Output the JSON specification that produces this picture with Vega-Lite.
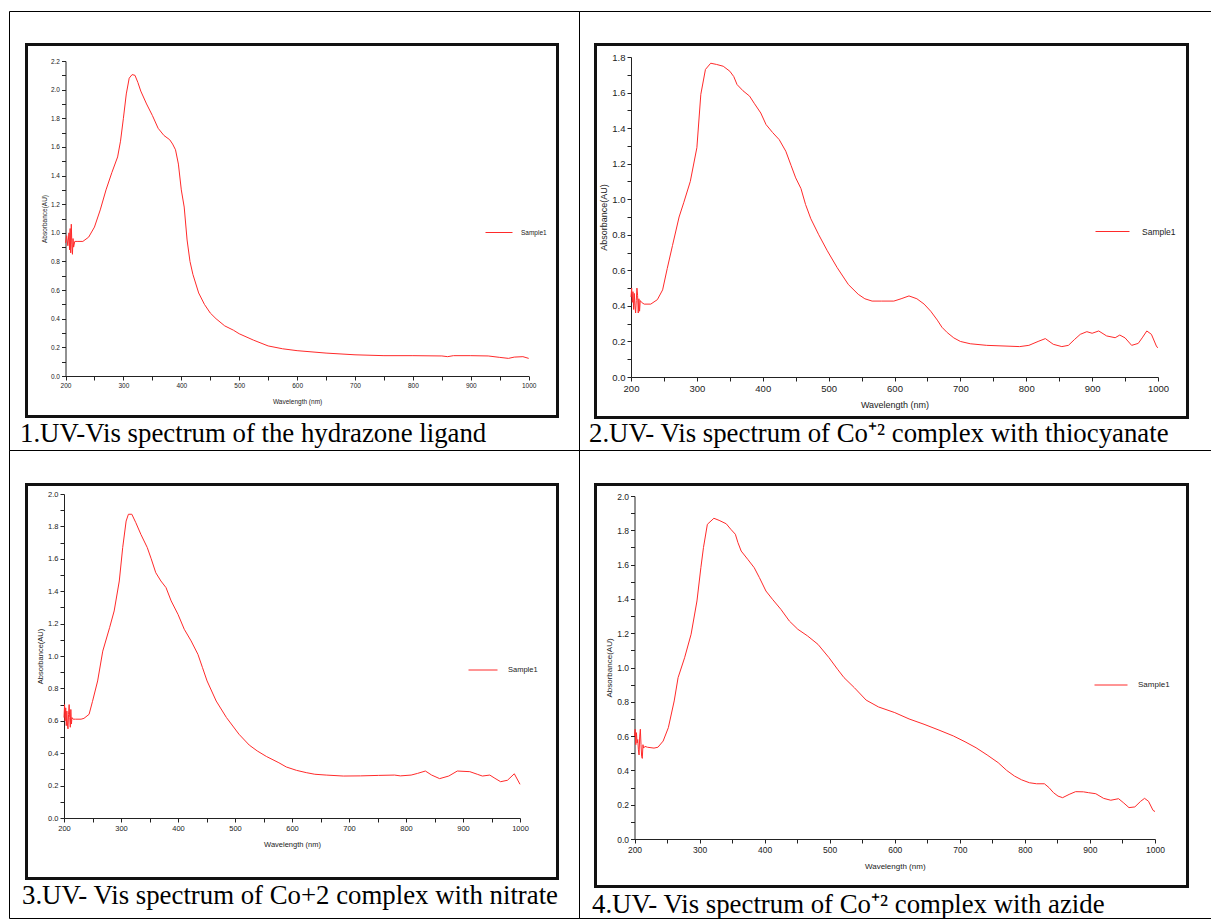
{
  "$schema": "https://vega.github.io/schema/vega-lite/v6.json",
  "padding": {"left": 8, "top": 10, "right": 0, "bottom": 0},
  "background": "white",
  "config": {
    "view": {"stroke": "black", "strokeWidth": 1},
    "axis": {"grid": false, "labelFont": "Liberation Sans", "titleFont": "Liberation Sans", "titleFontWeight": "normal", "labelColor": "#222", "titleColor": "#222", "domainColor": "#222", "tickColor": "#222", "tickSize": 4, "labelPadding": 2, "labelOverlap": false, "labelFlush": false, "labelBound": false},
    "legend": {"labelFont": "Liberation Sans", "labelColor": "#222", "padding": 0, "symbolStrokeWidth": 1.2},
    "line": {"strokeWidth": 1}
  },
  "datasets": {
    "p1": [
      {"nm":200,"a":0.93},{"nm":202,"a":0.98},{"nm":204,"a":0.91},{"nm":206,"a":1.0},{"nm":207,"a":0.88},{"nm":208,"a":1.03},{"nm":209,"a":0.86},{"nm":210,"a":1.06},{"nm":211,"a":0.92},{"nm":212,"a":0.85},{"nm":213,"a":0.96},{"nm":214,"a":0.9},{"nm":216,"a":0.94},{"nm":220,"a":0.94},{"nm":230,"a":0.94},{"nm":240,"a":0.97},{"nm":250,"a":1.04},{"nm":260,"a":1.16},{"nm":270,"a":1.3},{"nm":280,"a":1.42},{"nm":290,"a":1.53},{"nm":295,"a":1.64},{"nm":300,"a":1.8},{"nm":305,"a":1.97},{"nm":310,"a":2.08},{"nm":315,"a":2.105},{"nm":320,"a":2.1},{"nm":325,"a":2.05},{"nm":330,"a":1.99},{"nm":340,"a":1.9},{"nm":350,"a":1.82},{"nm":360,"a":1.73},{"nm":370,"a":1.68},{"nm":380,"a":1.65},{"nm":385,"a":1.62},{"nm":390,"a":1.58},{"nm":395,"a":1.48},{"nm":400,"a":1.3},{"nm":405,"a":1.18},{"nm":410,"a":0.95},{"nm":415,"a":0.8},{"nm":420,"a":0.71},{"nm":430,"a":0.58},{"nm":440,"a":0.5},{"nm":450,"a":0.44},{"nm":460,"a":0.4},{"nm":475,"a":0.35},{"nm":490,"a":0.32},{"nm":500,"a":0.295},{"nm":525,"a":0.25},{"nm":550,"a":0.21},{"nm":575,"a":0.19},{"nm":600,"a":0.177},{"nm":650,"a":0.16},{"nm":700,"a":0.148},{"nm":750,"a":0.142},{"nm":800,"a":0.142},{"nm":850,"a":0.14},{"nm":860,"a":0.135},{"nm":870,"a":0.142},{"nm":900,"a":0.142},{"nm":930,"a":0.14},{"nm":950,"a":0.13},{"nm":965,"a":0.123},{"nm":975,"a":0.132},{"nm":990,"a":0.135},{"nm":1000,"a":0.123}
    ],
    "p2": [
      {"nm":200,"a":0.45},{"nm":201,"a":0.5},{"nm":202,"a":0.42},{"nm":203,"a":0.48},{"nm":204,"a":0.38},{"nm":205,"a":0.47},{"nm":206,"a":0.4},{"nm":207,"a":0.36},{"nm":208,"a":0.43},{"nm":209,"a":0.5},{"nm":210,"a":0.46},{"nm":211,"a":0.36},{"nm":212,"a":0.44},{"nm":213,"a":0.37},{"nm":214,"a":0.43},{"nm":216,"a":0.42},{"nm":220,"a":0.41},{"nm":230,"a":0.41},{"nm":240,"a":0.435},{"nm":248,"a":0.49},{"nm":255,"a":0.61},{"nm":263,"a":0.74},{"nm":273,"a":0.9},{"nm":280,"a":0.98},{"nm":290,"a":1.1},{"nm":300,"a":1.29},{"nm":306,"a":1.59},{"nm":313,"a":1.73},{"nm":321,"a":1.765},{"nm":330,"a":1.758},{"nm":340,"a":1.748},{"nm":350,"a":1.72},{"nm":356,"a":1.69},{"nm":361,"a":1.645},{"nm":370,"a":1.61},{"nm":380,"a":1.58},{"nm":387,"a":1.54},{"nm":397,"a":1.485},{"nm":405,"a":1.42},{"nm":415,"a":1.375},{"nm":425,"a":1.335},{"nm":435,"a":1.27},{"nm":443,"a":1.19},{"nm":450,"a":1.12},{"nm":458,"a":1.06},{"nm":465,"a":0.97},{"nm":473,"a":0.89},{"nm":485,"a":0.8},{"nm":498,"a":0.71},{"nm":513,"a":0.615},{"nm":530,"a":0.52},{"nm":545,"a":0.465},{"nm":555,"a":0.44},{"nm":566,"a":0.427},{"nm":580,"a":0.427},{"nm":599,"a":0.427},{"nm":610,"a":0.44},{"nm":622,"a":0.456},{"nm":634,"a":0.44},{"nm":645,"a":0.41},{"nm":655,"a":0.37},{"nm":665,"a":0.32},{"nm":672,"a":0.28},{"nm":680,"a":0.25},{"nm":690,"a":0.22},{"nm":700,"a":0.2},{"nm":715,"a":0.187},{"nm":740,"a":0.178},{"nm":790,"a":0.171},{"nm":804,"a":0.178},{"nm":818,"a":0.2},{"nm":829,"a":0.216},{"nm":841,"a":0.184},{"nm":854,"a":0.171},{"nm":864,"a":0.178},{"nm":873,"a":0.21},{"nm":882,"a":0.24},{"nm":892,"a":0.255},{"nm":900,"a":0.246},{"nm":910,"a":0.259},{"nm":922,"a":0.231},{"nm":935,"a":0.221},{"nm":942,"a":0.236},{"nm":950,"a":0.22},{"nm":960,"a":0.178},{"nm":970,"a":0.189},{"nm":976,"a":0.22},{"nm":983,"a":0.259},{"nm":990,"a":0.24},{"nm":998,"a":0.17},{"nm":1000,"a":0.165}
    ],
    "p3": [
      {"nm":200,"a":0.62},{"nm":201,"a":0.7},{"nm":202,"a":0.6},{"nm":203,"a":0.68},{"nm":204,"a":0.57},{"nm":205,"a":0.66},{"nm":206,"a":0.58},{"nm":207,"a":0.55},{"nm":208,"a":0.64},{"nm":209,"a":0.7},{"nm":210,"a":0.62},{"nm":211,"a":0.56},{"nm":212,"a":0.67},{"nm":213,"a":0.58},{"nm":214,"a":0.62},{"nm":216,"a":0.61},{"nm":220,"a":0.61},{"nm":230,"a":0.61},{"nm":235,"a":0.615},{"nm":244,"a":0.64},{"nm":250,"a":0.72},{"nm":259,"a":0.846},{"nm":268,"a":1.03},{"nm":280,"a":1.175},{"nm":288,"a":1.278},{"nm":297,"a":1.463},{"nm":303,"a":1.67},{"nm":309,"a":1.833},{"nm":313,"a":1.875},{"nm":319,"a":1.875},{"nm":326,"a":1.823},{"nm":335,"a":1.75},{"nm":346,"a":1.67},{"nm":353,"a":1.6},{"nm":361,"a":1.514},{"nm":370,"a":1.463},{"nm":379,"a":1.422},{"nm":388,"a":1.34},{"nm":400,"a":1.257},{"nm":411,"a":1.165},{"nm":423,"a":1.093},{"nm":435,"a":1.01},{"nm":443,"a":0.928},{"nm":451,"a":0.846},{"nm":467,"a":0.722},{"nm":485,"a":0.62},{"nm":507,"a":0.517},{"nm":525,"a":0.45},{"nm":539,"a":0.414},{"nm":555,"a":0.38},{"nm":577,"a":0.341},{"nm":590,"a":0.315},{"nm":608,"a":0.294},{"nm":625,"a":0.28},{"nm":640,"a":0.27},{"nm":660,"a":0.265},{"nm":690,"a":0.259},{"nm":720,"a":0.26},{"nm":752,"a":0.263},{"nm":780,"a":0.265},{"nm":790,"a":0.26},{"nm":809,"a":0.265},{"nm":820,"a":0.275},{"nm":834,"a":0.29},{"nm":845,"a":0.265},{"nm":859,"a":0.243},{"nm":875,"a":0.259},{"nm":890,"a":0.29},{"nm":912,"a":0.286},{"nm":925,"a":0.27},{"nm":934,"a":0.259},{"nm":947,"a":0.265},{"nm":956,"a":0.245},{"nm":966,"a":0.224},{"nm":978,"a":0.233},{"nm":990,"a":0.273},{"nm":1000,"a":0.208}
    ],
    "p4": [
      {"nm":200,"a":0.6},{"nm":201,"a":0.64},{"nm":202,"a":0.55},{"nm":203,"a":0.62},{"nm":204,"a":0.56},{"nm":205,"a":0.58},{"nm":206,"a":0.52},{"nm":207,"a":0.49},{"nm":208,"a":0.6},{"nm":209,"a":0.64},{"nm":210,"a":0.55},{"nm":211,"a":0.48},{"nm":212,"a":0.47},{"nm":213,"a":0.55},{"nm":214,"a":0.53},{"nm":216,"a":0.54},{"nm":220,"a":0.535},{"nm":230,"a":0.53},{"nm":236,"a":0.535},{"nm":244,"a":0.571},{"nm":252,"a":0.649},{"nm":261,"a":0.805},{"nm":267,"a":0.941},{"nm":277,"a":1.057},{"nm":287,"a":1.194},{"nm":296,"a":1.388},{"nm":302,"a":1.582},{"nm":306,"a":1.699},{"nm":312,"a":1.835},{"nm":322,"a":1.87},{"nm":330,"a":1.858},{"nm":341,"a":1.838},{"nm":348,"a":1.806},{"nm":355,"a":1.777},{"nm":359,"a":1.728},{"nm":364,"a":1.679},{"nm":374,"a":1.631},{"nm":384,"a":1.582},{"nm":392,"a":1.524},{"nm":402,"a":1.446},{"nm":412,"a":1.398},{"nm":425,"a":1.339},{"nm":438,"a":1.271},{"nm":451,"a":1.223},{"nm":466,"a":1.184},{"nm":482,"a":1.135},{"nm":499,"a":1.057},{"nm":512,"a":0.99},{"nm":522,"a":0.941},{"nm":538,"a":0.882},{"nm":556,"a":0.81},{"nm":575,"a":0.77},{"nm":600,"a":0.737},{"nm":622,"a":0.7},{"nm":645,"a":0.669},{"nm":668,"a":0.635},{"nm":690,"a":0.601},{"nm":708,"a":0.567},{"nm":725,"a":0.532},{"nm":742,"a":0.49},{"nm":759,"a":0.445},{"nm":772,"a":0.4},{"nm":784,"a":0.367},{"nm":795,"a":0.345},{"nm":807,"a":0.328},{"nm":818,"a":0.322},{"nm":830,"a":0.322},{"nm":837,"a":0.3},{"nm":844,"a":0.27},{"nm":851,"a":0.25},{"nm":858,"a":0.241},{"nm":868,"a":0.26},{"nm":878,"a":0.276},{"nm":890,"a":0.275},{"nm":898,"a":0.27},{"nm":909,"a":0.264},{"nm":921,"a":0.237},{"nm":932,"a":0.226},{"nm":944,"a":0.235},{"nm":952,"a":0.21},{"nm":960,"a":0.183},{"nm":969,"a":0.187},{"nm":978,"a":0.22},{"nm":984,"a":0.237},{"nm":990,"a":0.22},{"nm":997,"a":0.167},{"nm":1000,"a":0.16}
    ]
  },
  "columns": 2,
  "spacing": 0,
  "align": "each",
  "bounds": "flush",
  "resolve": {"scale": {"color": "independent"}, "legend": {"color": "independent"}},
  "concat": [
    {
      "width": 570, "height": 439,
      "data": {"name": "p1"},
      "title": {"text": "1.UV-Vis spectrum of the hydrazone ligand", "orient": "bottom", "anchor": "start", "frame": "group", "offset": -8, "dx": 11, "baseline": "alphabetic", "font": "Liberation Serif", "fontSize": 26.8, "fontWeight": "normal", "color": "black"},
      "layer": [
        {
          "mark": {"type": "line", "color": "#ff2a2a", "strokeWidth": 1},
          "encoding": {
            "x": {"field": "nm", "type": "quantitative", "scale": {"domain": [200, 1000], "range": [56.5, 519.7]},
              "axis": {"orient": "bottom", "offset": -74, "values": [200,250,300,350,400,450,500,550,600,650,700,750,800,850,900,950,1000], "labelExpr": "datum.value % 100 === 0 ? '' + datum.value : ''", "labelFontSize": 6.5, "title": "Wavelength (nm)", "titleFontSize": 6.5, "titlePadding": 10}},
            "y": {"field": "a", "type": "quantitative", "scale": {"domain": [0, 2.2], "range": [365, 50], "nice": false},
              "axis": {"orient": "left", "offset": -56.5, "values": [0,0.1,0.2,0.3,0.4,0.5,0.6,0.7,0.8,0.9,1,1.1,1.2,1.3,1.4,1.5,1.6,1.7,1.8,1.9,2,2.1,2.2], "labelExpr": "round(datum.value*10) % 2 === 0 ? format(datum.value, '.1f') : ''", "labelFontSize": 6.5, "title": "Absorbance(AU)", "titleFontSize": 6.5, "titlePadding": 3}},
            "color": {"datum": "Sample1", "scale": {"range": ["#ff2a2a"]}, "legend": {"orient": "none", "legendX": 476, "legendY": 207.5, "title": null, "symbolType": "stroke", "symbolSize": 729, "labelFontSize": 6.5, "labelOffset": 8}}
          }
        },
        {
          "mark": {"type": "line", "opacity": 0, "clip": true},
          "encoding": {
            "x": {"field": "nm", "type": "quantitative", "scale": {"domain": [200, 1000], "range": [17, 548]}, "axis": {"orient": "bottom", "offset": -34, "ticks": false, "labels": false, "title": null, "domainWidth": 3, "domainColor": "#111", "domainCap": "square"}},
            "y": {"field": "a", "type": "quantitative", "scale": {"domain": [0, 2.2], "range": [405, 33]}, "axis": {"orient": "left", "offset": -17, "ticks": false, "labels": false, "title": null, "domainWidth": 3, "domainColor": "#111", "domainCap": "square"}}
          }
        },
        {
          "mark": {"type": "line", "opacity": 0, "clip": true},
          "encoding": {
            "x": {"field": "nm", "type": "quantitative", "scale": {"domain": [200, 1000], "range": [17, 548]}, "axis": {"orient": "top", "offset": -33, "ticks": false, "labels": false, "title": null, "domainWidth": 3, "domainColor": "#111", "domainCap": "square"}},
            "y": {"field": "a", "type": "quantitative", "scale": {"domain": [0, 2.2], "range": [405, 33]}, "axis": {"orient": "right", "offset": -22, "ticks": false, "labels": false, "title": null, "domainWidth": 3, "domainColor": "#111", "domainCap": "square"}}
          }
        }
      ],
      "resolve": {"scale": {"x": "independent", "y": "independent"}, "axis": {"x": "independent", "y": "independent"}}
    },
    {
      "width": 632, "height": 439,
      "data": {"name": "p2"},
      "title": {"text": "2.UV- Vis spectrum of Co⁺² complex with thiocyanate", "orient": "bottom", "anchor": "start", "frame": "group", "offset": -8, "dx": 10, "baseline": "alphabetic", "font": "Liberation Serif", "fontSize": 26.8, "fontWeight": "normal", "color": "black"},
      "layer": [
        {
          "mark": {"type": "line", "color": "#ff2a2a", "strokeWidth": 1},
          "encoding": {
            "x": {"field": "nm", "type": "quantitative", "scale": {"domain": [200, 1000], "range": [52, 579]},
              "axis": {"orient": "bottom", "offset": -73, "values": [200,250,300,350,400,450,500,550,600,650,700,750,800,850,900,950,1000], "labelExpr": "datum.value % 100 === 0 ? '' + datum.value : ''", "labelFontSize": 9.5, "title": "Wavelength (nm)", "titleFontSize": 9, "titlePadding": 8}},
            "y": {"field": "a", "type": "quantitative", "scale": {"domain": [0, 1.8], "range": [366, 46], "nice": false},
              "axis": {"orient": "left", "offset": -52, "values": [0,0.1,0.2,0.3,0.4,0.5,0.6,0.7,0.8,0.9,1,1.1,1.2,1.3,1.4,1.5,1.6,1.7,1.8], "labelExpr": "round(datum.value*10) % 2 === 0 ? format(datum.value, '.1f') : ''", "labelFontSize": 9.5, "title": "Absorbance(AU)", "titleFontSize": 9, "titlePadding": 3}},
            "color": {"datum": "Sample1", "scale": {"range": ["#ff2a2a"]}, "legend": {"orient": "none", "legendX": 516, "legendY": 203, "title": null, "symbolType": "stroke", "symbolSize": 1156, "labelFontSize": 8.5, "labelOffset": 12}}
          }
        },
        {
          "mark": {"type": "line", "opacity": 0, "clip": true},
          "encoding": {
            "x": {"field": "nm", "type": "quantitative", "scale": {"domain": [200, 1000], "range": [16, 608]}, "axis": {"orient": "bottom", "offset": -33, "ticks": false, "labels": false, "title": null, "domainWidth": 3, "domainColor": "#111", "domainCap": "square"}},
            "y": {"field": "a", "type": "quantitative", "scale": {"domain": [0, 2.2], "range": [406, 33]}, "axis": {"orient": "left", "offset": -16, "ticks": false, "labels": false, "title": null, "domainWidth": 3, "domainColor": "#111", "domainCap": "square"}}
          }
        },
        {
          "mark": {"type": "line", "opacity": 0, "clip": true},
          "encoding": {
            "x": {"field": "nm", "type": "quantitative", "scale": {"domain": [200, 1000], "range": [16, 608]}, "axis": {"orient": "top", "offset": -33, "ticks": false, "labels": false, "title": null, "domainWidth": 3, "domainColor": "#111", "domainCap": "square"}},
            "y": {"field": "a", "type": "quantitative", "scale": {"domain": [0, 2.2], "range": [406, 33]}, "axis": {"orient": "right", "offset": -24, "ticks": false, "labels": false, "title": null, "domainWidth": 3, "domainColor": "#111", "domainCap": "square"}}
          }
        }
      ],
      "resolve": {"scale": {"x": "independent", "y": "independent"}, "axis": {"x": "independent", "y": "independent"}}
    },
    {
      "width": 570, "height": 468,
      "data": {"name": "p3"},
      "title": {"text": "3.UV- Vis spectrum of Co+2 complex with nitrate", "orient": "bottom", "anchor": "start", "frame": "group", "offset": -14, "dx": 13, "baseline": "alphabetic", "font": "Liberation Serif", "fontSize": 26.8, "fontWeight": "normal", "color": "black"},
      "layer": [
        {
          "mark": {"type": "line", "color": "#ff2a2a", "strokeWidth": 1},
          "encoding": {
            "x": {"field": "nm", "type": "quantitative", "scale": {"domain": [200, 1000], "range": [55, 511]},
              "axis": {"orient": "bottom", "offset": -100, "values": [200,250,300,350,400,450,500,550,600,650,700,750,800,850,900,950,1000], "labelExpr": "datum.value % 100 === 0 ? '' + datum.value : ''", "labelFontSize": 7.5, "title": "Wavelength (nm)", "titleFontSize": 7.5, "titlePadding": 9}},
            "y": {"field": "a", "type": "quantitative", "scale": {"domain": [0, 2], "range": [368, 44], "nice": false},
              "axis": {"orient": "left", "offset": -55, "values": [0,0.1,0.2,0.3,0.4,0.5,0.6,0.7,0.8,0.9,1,1.1,1.2,1.3,1.4,1.5,1.6,1.7,1.8,1.9,2], "labelExpr": "round(datum.value*10) % 2 === 0 ? format(datum.value, '.1f') : ''", "labelFontSize": 7.5, "title": "Absorbance(AU)", "titleFontSize": 7.5, "titlePadding": 3}},
            "color": {"datum": "Sample1", "scale": {"range": ["#ff2a2a"]}, "legend": {"orient": "none", "legendX": 459, "legendY": 205, "title": null, "symbolType": "stroke", "symbolSize": 841, "labelFontSize": 7.5, "labelOffset": 10}}
          }
        },
        {
          "mark": {"type": "line", "opacity": 0, "clip": true},
          "encoding": {
            "x": {"field": "nm", "type": "quantitative", "scale": {"domain": [200, 1000], "range": [17, 548]}, "axis": {"orient": "bottom", "offset": -40, "ticks": false, "labels": false, "title": null, "domainWidth": 3, "domainColor": "#111", "domainCap": "square"}},
            "y": {"field": "a", "type": "quantitative", "scale": {"domain": [0, 2.2], "range": [428, 34]}, "axis": {"orient": "left", "offset": -17, "ticks": false, "labels": false, "title": null, "domainWidth": 3, "domainColor": "#111", "domainCap": "square"}}
          }
        },
        {
          "mark": {"type": "line", "opacity": 0, "clip": true},
          "encoding": {
            "x": {"field": "nm", "type": "quantitative", "scale": {"domain": [200, 1000], "range": [17, 548]}, "axis": {"orient": "top", "offset": -34, "ticks": false, "labels": false, "title": null, "domainWidth": 3, "domainColor": "#111", "domainCap": "square"}},
            "y": {"field": "a", "type": "quantitative", "scale": {"domain": [0, 2.2], "range": [428, 34]}, "axis": {"orient": "right", "offset": -22, "ticks": false, "labels": false, "title": null, "domainWidth": 3, "domainColor": "#111", "domainCap": "square"}}
          }
        }
      ],
      "resolve": {"scale": {"x": "independent", "y": "independent"}, "axis": {"x": "independent", "y": "independent"}}
    },
    {
      "width": 632, "height": 468,
      "data": {"name": "p4"},
      "title": {"text": "4.UV- Vis spectrum of Co⁺² complex with azide", "orient": "bottom", "anchor": "start", "frame": "group", "offset": -5, "dx": 13, "baseline": "alphabetic", "font": "Liberation Serif", "fontSize": 26.8, "fontWeight": "normal", "color": "black"},
      "layer": [
        {
          "mark": {"type": "line", "color": "#ff2a2a", "strokeWidth": 1},
          "encoding": {
            "x": {"field": "nm", "type": "quantitative", "scale": {"domain": [200, 1000], "range": [55.5, 576]},
              "axis": {"orient": "bottom", "offset": -79, "values": [200,250,300,350,400,450,500,550,600,650,700,750,800,850,900,950,1000], "labelExpr": "datum.value % 100 === 0 ? '' + datum.value : ''", "labelFontSize": 8.5, "title": "Wavelength (nm)", "titleFontSize": 8, "titlePadding": 9}},
            "y": {"field": "a", "type": "quantitative", "scale": {"domain": [0, 2], "range": [389, 46], "nice": false},
              "axis": {"orient": "left", "offset": -55.5, "values": [0,0.1,0.2,0.3,0.4,0.5,0.6,0.7,0.8,0.9,1,1.1,1.2,1.3,1.4,1.5,1.6,1.7,1.8,1.9,2], "labelExpr": "round(datum.value*10) % 2 === 0 ? format(datum.value, '.1f') : ''", "labelFontSize": 8.5, "title": "Absorbance(AU)", "titleFontSize": 8, "titlePadding": 3}},
            "color": {"datum": "Sample1", "scale": {"range": ["#ff2a2a"]}, "legend": {"orient": "none", "legendX": 515, "legendY": 218, "title": null, "symbolType": "stroke", "symbolSize": 1089, "labelFontSize": 8, "labelOffset": 10}}
          }
        },
        {
          "mark": {"type": "line", "opacity": 0, "clip": true},
          "encoding": {
            "x": {"field": "nm", "type": "quantitative", "scale": {"domain": [200, 1000], "range": [16, 608]}, "axis": {"orient": "bottom", "offset": -32, "ticks": false, "labels": false, "title": null, "domainWidth": 3, "domainColor": "#111", "domainCap": "square"}},
            "y": {"field": "a", "type": "quantitative", "scale": {"domain": [0, 2.2], "range": [436, 34]}, "axis": {"orient": "left", "offset": -16, "ticks": false, "labels": false, "title": null, "domainWidth": 3, "domainColor": "#111", "domainCap": "square"}}
          }
        },
        {
          "mark": {"type": "line", "opacity": 0, "clip": true},
          "encoding": {
            "x": {"field": "nm", "type": "quantitative", "scale": {"domain": [200, 1000], "range": [16, 608]}, "axis": {"orient": "top", "offset": -34, "ticks": false, "labels": false, "title": null, "domainWidth": 3, "domainColor": "#111", "domainCap": "square"}},
            "y": {"field": "a", "type": "quantitative", "scale": {"domain": [0, 2.2], "range": [436, 34]}, "axis": {"orient": "right", "offset": -24, "ticks": false, "labels": false, "title": null, "domainWidth": 3, "domainColor": "#111", "domainCap": "square"}}
          }
        }
      ],
      "resolve": {"scale": {"x": "independent", "y": "independent"}, "axis": {"x": "independent", "y": "independent"}}
    }
  ]
}
